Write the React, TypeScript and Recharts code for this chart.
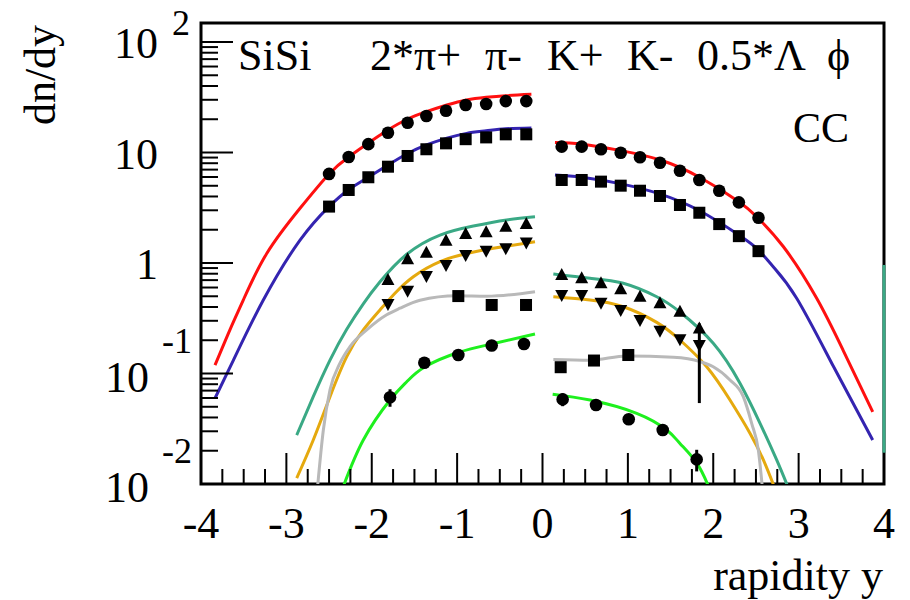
import React from 'react';
import { ComposedChart, Line, Scatter, XAxis, YAxis, ErrorBar, ReferenceArea, ReferenceLine } from 'recharts';

// measured points (rapidity bins)
const rapLeft = [-2.5, -2.27, -2.04, -1.81, -1.58, -1.36, -1.13, -0.9, -0.66, -0.43, -0.19];
const rapRight = [0.225, 0.459, 0.685, 0.916, 1.142, 1.376, 1.61, 1.837, 2.07, 2.3, 2.53];
const piPlusLeft = [6.4, 9.1, 11.9, 15.1, 18.6, 21.4, 23.9, 26.9, 27.5, 29.2, 29.2];
const piPlusRight = [11.3, 11.3, 10.7, 9.95, 9.06, 8.09, 6.84, 5.64, 4.51, 3.54, 2.57];
const piMinusLeft = [3.24, 4.58, 5.97, 7.44, 9.3, 10.7, 12.1, 13.2, 13.7, 14.6, 14.6];
const piMinusRight = [5.64, 5.64, 5.45, 5.01, 4.51, 4.04, 3.35, 2.85, 2.25, 1.75, 1.28];

const kRapLeft = [-1.81, -1.58, -1.36, -1.13, -0.9, -0.66, -0.43, -0.19];
const kRapRight = [0.225, 0.459, 0.685, 0.916, 1.142, 1.376, 1.61, 1.837];
const kPlusLeft = [0.7, 1.08, 1.24, 1.59, 1.83, 1.9, 2.13, 2.25];
const kPlusRight = [0.778, 0.727, 0.655, 0.578, 0.495, 0.432, 0.362, 0.256];
const kMinusLeft = [0.426, 0.561, 0.762, 0.96, 1.18, 1.29, 1.36, 1.53];
const kMinusRight = [0.513, 0.513, 0.437, 0.376, 0.305, 0.244, 0.204, 0.181];
const kMinusRightErr: (number | [number, number])[] = [0, 0, 0, 0, 0, 0, 0, [0.127, 0.103]];

const lamRapLeft = [-0.986, -0.595, -0.193];
const lamLeft = [0.502, 0.417, 0.417];
const lamRapRight = [0.213, 0.603, 1.005];
const lamRight = [0.114, 0.131, 0.147];

const phiRapLeft = [-1.786, -1.384, -0.986, -0.595, -0.217];
const phiLeft = [0.061, 0.125, 0.147, 0.179, 0.185];
const phiLeftErr = [0.011, 0, 0, 0, 0];
const phiRapRight = [0.236, 0.627, 1.01, 1.408, 1.806];
const phiRight = [0.0583, 0.0519, 0.0385, 0.0308, 0.0167];
const phiRightErr = [0.0077, 0, 0, 0, 0.0037];

// model curves
const piPlusFitLeftX = [-3.836, -3.66, -3.505, -3.23, -2.84, -2.5, -2.275, -2.04, -1.81, -1.59, -1.36, -1.12, -0.89, -0.66, -0.43, -0.13];
const piPlusFitLeftY = [0.119, 0.25, 0.462, 1.22, 3.13, 6.4, 9.06, 12.2, 16.0, 19.9, 23.4, 26.9, 29.9, 31.6, 32.7, 33.6];
const piMinusFitLeftX = [-3.836, -3.62, -3.27, -2.84, -2.5, -2.275, -2.04, -1.81, -1.59, -1.36, -1.12, -0.89, -0.66, -0.43, -0.13];
const piMinusFitLeftY = [0.0597, 0.132, 0.462, 1.61, 3.24, 4.58, 5.97, 7.7, 9.7, 11.7, 13.5, 14.9, 15.7, 16.4, 16.7];
const piPlusFitRightX = [0.146, 0.46, 0.92, 1.38, 1.84, 2.3, 2.51, 2.82, 3.21, 3.52, 3.868];
const piPlusFitRightY = [12.3, 11.9, 10.4, 8.55, 5.97, 3.59, 2.62, 1.41, 0.482, 0.163, 0.045];
const piMinusFitRightX = [0.146, 0.46, 0.92, 1.38, 1.84, 2.3, 2.53, 2.7, 2.977, 3.41, 3.868];
const piMinusFitRightY = [6.25, 5.97, 5.2, 4.2, 2.97, 1.79, 1.31, 0.93, 0.48, 0.115, 0.025];

const kPlusFitLeftX = [-2.879, -2.685, -2.489, -2.293, -2.099, -1.903, -1.59, -1.2, -0.81, -0.42, -0.088];
const kPlusFitLeftY = [0.0277, 0.0617, 0.132, 0.251, 0.427, 0.676, 1.2, 1.79, 2.16, 2.45, 2.62];
const kPlusFitRightX = [0.127, 0.556, 0.946, 1.338, 1.61, 2.0, 2.313, 2.548, 2.743, 2.88];
const kPlusFitRightY = [0.794, 0.727, 0.655, 0.495, 0.36, 0.1875, 0.0815, 0.0354, 0.0165, 0.0092];

const kMinusFitLeftX = [-2.879, -2.685, -2.489, -2.293, -2.099, -1.903, -1.728, -1.513, -1.2, -0.888, -0.576, -0.088];
const kMinusFitLeftY = [0.0113, 0.025, 0.0617, 0.142, 0.248, 0.376, 0.532, 0.751, 1.03, 1.22, 1.36, 1.56];
const kMinusFitRightX = [0.127, 0.556, 0.946, 1.338, 1.61, 1.923, 2.196, 2.43, 2.587, 2.72];
const kMinusFitRightY = [0.495, 0.462, 0.402, 0.29, 0.201, 0.115, 0.0575, 0.0288, 0.0165, 0.0092];

const lamFitLeftX = [-2.64, -2.567, -2.489, -2.372, -2.255, -2.059, -1.825, -1.669, -1.435, -1.005, -0.654, -0.088];
const lamFitLeftY = [0.0085, 0.0308, 0.071, 0.124, 0.175, 0.248, 0.34, 0.39, 0.46, 0.505, 0.5, 0.55];
const lamFitRightX = [0.127, 0.556, 0.986, 1.532, 1.845, 2.0, 2.196, 2.352, 2.45, 2.528, 2.58];
const lamFitRightY = [0.134, 0.132, 0.144, 0.14, 0.128, 0.115, 0.0873, 0.0617, 0.0354, 0.0203, 0.0085];

const phiFitLeftX = [-2.34, -2.099, -1.786, -1.59, -1.376, -0.986, -0.595, -0.088];
const phiFitLeftY = [0.0092, 0.025, 0.0575, 0.0843, 0.115, 0.155, 0.185, 0.228];
const phiFitRightX = [0.119, 0.556, 1.103, 1.455, 1.61, 1.806, 1.95];
const phiFitRightY = [0.065, 0.0575, 0.0436, 0.0308, 0.0233, 0.0155, 0.0093];

// axes
const xMajor = [-4, -3, -2, -1, 0, 1, 2, 3, 4];
const yDecades = [-2, -1, 0, 1, 2];
const yLabels: Record<number, [string, string]> = {
  '-2': ['10', '-2'],
  '-1': ['10', '-1'],
  '0': ['1', ''],
  '1': ['10', ''],
  '2': ['10', '2'],
};
const Y_MIN = 0.01;
const Y_MAX = 148.6;

const xTicks: number[] = [];
xMajor.forEach((v, i) => {
  xTicks.push(v);
  if (i < xMajor.length - 1) [0.25, 0.5, 0.75].forEach((f) => xTicks.push(v + f));
});
const yTicks: number[] = [];
yDecades.forEach((d) => {
  for (let m = 1; m <= 9; m++) {
    const v = Number((m * Math.pow(10, d)).toPrecision(3));
    if (v <= Y_MAX) yTicks.push(v);
  }
});

const pts = (xs: number[], ys: number[], errs?: any[]) =>
  xs.map((x, i) => ({ x, y: ys[i], err: errs ? errs[i] : 0 }));

const FONT = "'Liberation Serif', 'Times New Roman', 'DejaVu Serif', serif";
const txt = { fontFamily: FONT };
const RED = '#ff1010';
const BLUE = '#3424b0';
const TEAL = '#3aa985';
const ORANGE = '#e5a90e';
const GRAY = '#b9b9b9';
const GREEN = '#1ef01e';

const XTick = (props: any) => {
  const { x, y, payload } = props;
  const v = payload.value;
  const major = Math.abs(v - Math.round(v)) < 1e-6;
  return (
    <g>
      <line x1={x} x2={x} y1={y} y2={y - (major ? 31 : 15)} stroke="#000" strokeWidth={2} />
      {major && (
        <text x={x} y={y + 54} textAnchor="middle" style={txt} fontSize={44} fill="#000">
          {String(Math.round(v))}
        </text>
      )}
    </g>
  );
};

const YTick = (props: any) => {
  const { x, y, payload } = props;
  const v = payload.value;
  const lg = Math.log10(v);
  const d = Math.round(lg);
  const major = Math.abs(lg - d) < 1e-6;
  const lab = major ? yLabels[d] : null;
  return (
    <g>
      <line x1={x} x2={x + (major ? 32 : 17)} y1={y} y2={y} stroke="#000" strokeWidth={2} />
      {lab && d < 0 && (
        <g fill="#000">
          <text x={x - 96} y={y + 18} fontSize={44} style={txt}>{lab[0]}</text>
          <text x={x - 39} y={y - 21} fontSize={36} style={txt}>{lab[1]}</text>
        </g>
      )}
      {lab && d >= 0 && (
        <g fill="#000">
          <text x={x - 43} y={y + 16} fontSize={44} textAnchor="end" style={txt}>{lab[0]}</text>
          {lab[1] && <text x={x - 29} y={y - 7} fontSize={36} style={txt}>{lab[1]}</text>}
        </g>
      )}
    </g>
  );
};

const Dot = (p: any) => <circle cx={p.cx} cy={p.cy} r={6.3} fill="#000" />;
const Sq = (p: any) => <rect x={p.cx - 6} y={p.cy - 6} width={12} height={12} fill="#000" />;
const TriUp = (p: any) => (
  <polygon points={`${p.cx},${p.cy - 7} ${p.cx - 6.5},${p.cy + 5} ${p.cx + 6.5},${p.cy + 5}`} fill="#000" />
);
const TriDown = (p: any) => (
  <polygon points={`${p.cx},${p.cy + 7} ${p.cx - 6.5},${p.cy - 5} ${p.cx + 6.5},${p.cy - 5}`} fill="#000" />
);

const curves = [
  { key: 'pipL', xs: piPlusFitLeftX, ys: piPlusFitLeftY, color: RED, kind: 'natural' },
  { key: 'pipR', xs: piPlusFitRightX, ys: piPlusFitRightY, color: RED, kind: 'natural' },
  { key: 'pimL', xs: piMinusFitLeftX, ys: piMinusFitLeftY, color: BLUE, kind: 'natural' },
  { key: 'pimR', xs: piMinusFitRightX, ys: piMinusFitRightY, color: BLUE, kind: 'natural' },
  { key: 'kpL', xs: kPlusFitLeftX, ys: kPlusFitLeftY, color: TEAL, kind: 'natural' },
  { key: 'kpR', xs: kPlusFitRightX, ys: kPlusFitRightY, color: TEAL, kind: 'natural' },
  { key: 'kmL', xs: kMinusFitLeftX, ys: kMinusFitLeftY, color: ORANGE, kind: 'natural' },
  { key: 'kmR', xs: kMinusFitRightX, ys: kMinusFitRightY, color: ORANGE, kind: 'natural' },
  { key: 'lamL', xs: lamFitLeftX, ys: lamFitLeftY, color: GRAY, kind: 'monotone' },
  { key: 'lamR', xs: lamFitRightX, ys: lamFitRightY, color: GRAY, kind: 'monotone' },
  { key: 'phiL', xs: phiFitLeftX, ys: phiFitLeftY, color: GREEN, kind: 'natural' },
  { key: 'phiR', xs: phiFitRightX, ys: phiFitRightY, color: GREEN, kind: 'natural' },
];

const markers = [
  { key: 'pip1', data: pts(rapLeft, piPlusLeft), shape: Dot },
  { key: 'pip2', data: pts(rapRight, piPlusRight), shape: Dot },
  { key: 'pim1', data: pts(rapLeft, piMinusLeft), shape: Sq },
  { key: 'pim2', data: pts(rapRight, piMinusRight), shape: Sq },
  { key: 'kp1', data: pts(kRapLeft, kPlusLeft), shape: TriUp },
  { key: 'kp2', data: pts(kRapRight, kPlusRight), shape: TriUp },
  { key: 'km1', data: pts(kRapLeft, kMinusLeft), shape: TriDown },
  { key: 'km2', data: pts(kRapRight, kMinusRight, kMinusRightErr), shape: TriDown, err: true },
  { key: 'lam1', data: pts(lamRapLeft, lamLeft), shape: Sq },
  { key: 'lam2', data: pts(lamRapRight, lamRight), shape: Sq },
  { key: 'phi1', data: pts(phiRapLeft, phiLeft, phiLeftErr), shape: Dot, err: true },
  { key: 'phi2', data: pts(phiRapRight, phiRight, phiRightErr), shape: Dot, err: true },
];

const titleWords: [string, number][] = [
  ['SiSi', 238],
  ['2*π+', 370],
  ['π-', 485],
  ['K+', 547],
  ['K-', 627],
  ['0.5*Λ', 697],
  ['ϕ', 827],
];

export default function App() {
  return (
    <div style={{ position: 'absolute', left: 0, top: 0, width: 910, height: 600, background: '#fff', fontFamily: FONT }}>
      <ComposedChart width={910} height={600} margin={{ top: 23, right: 26, bottom: 56, left: 0 }}>
        <XAxis
          dataKey="x"
          type="number"
          domain={[-4, 4]}
          ticks={xTicks}
          interval={0}
          tick={<XTick />}
          tickLine={false}
          axisLine={false}
          tickSize={0}
          tickMargin={0}
          height={60}
          allowDataOverflow
        />
        <YAxis
          dataKey="y"
          type="number"
          scale="log"
          domain={[Y_MIN, Y_MAX]}
          ticks={yTicks}
          interval={0}
          tick={<YTick />}
          tickLine={false}
          axisLine={false}
          tickSize={0}
          tickMargin={0}
          width={201}
          allowDataOverflow
        />
        <ReferenceArea x1={-4} x2={4} y1={Y_MIN} y2={Y_MAX} fill="none" stroke="#000" strokeWidth={3} ifOverflow="visible" />
        {curves.map((c) => (
          <Line
            key={c.key}
            data={pts(c.xs, c.ys)}
            dataKey="y"
            type={c.kind as any}
            stroke={c.color}
            strokeWidth={3}
            dot={false}
            activeDot={false}
            isAnimationActive={false}
          />
        ))}
        {markers.map((m) => (
          <Scatter key={m.key} data={m.data} dataKey="y" shape={m.shape} fill="#000" isAnimationActive={false}>
            {m.err && <ErrorBar dataKey="err" direction="y" width={0} stroke="#000" strokeWidth={3} />}
          </Scatter>
        ))}
        <ReferenceLine
          segment={[{ x: 4, y: 0.0192 }, { x: 4, y: 0.96 }]}
          stroke={TEAL}
          strokeWidth={3}
          ifOverflow="visible"
        />
      </ComposedChart>
      <svg width={910} height={600} style={{ position: 'absolute', left: 0, top: 0, pointerEvents: 'none', fontFamily: FONT }}>
        {titleWords.map(([w, x]) => (
          <text key={w} x={x} y={70} fontSize={44} fill="#000" style={txt}>{w}</text>
        ))}
        <text x={793} y={142} fontSize={42} fill="#000" style={txt}>CC</text>
        <text x={883} y={590} fontSize={44} fill="#000" textAnchor="end" style={txt}>rapidity y</text>
        <text x={0} y={0} fontSize={44} fill="#000" textAnchor="middle" transform="translate(55,75) rotate(-90)" style={txt}>
          dn/dy
        </text>
      </svg>
    </div>
  );
}
